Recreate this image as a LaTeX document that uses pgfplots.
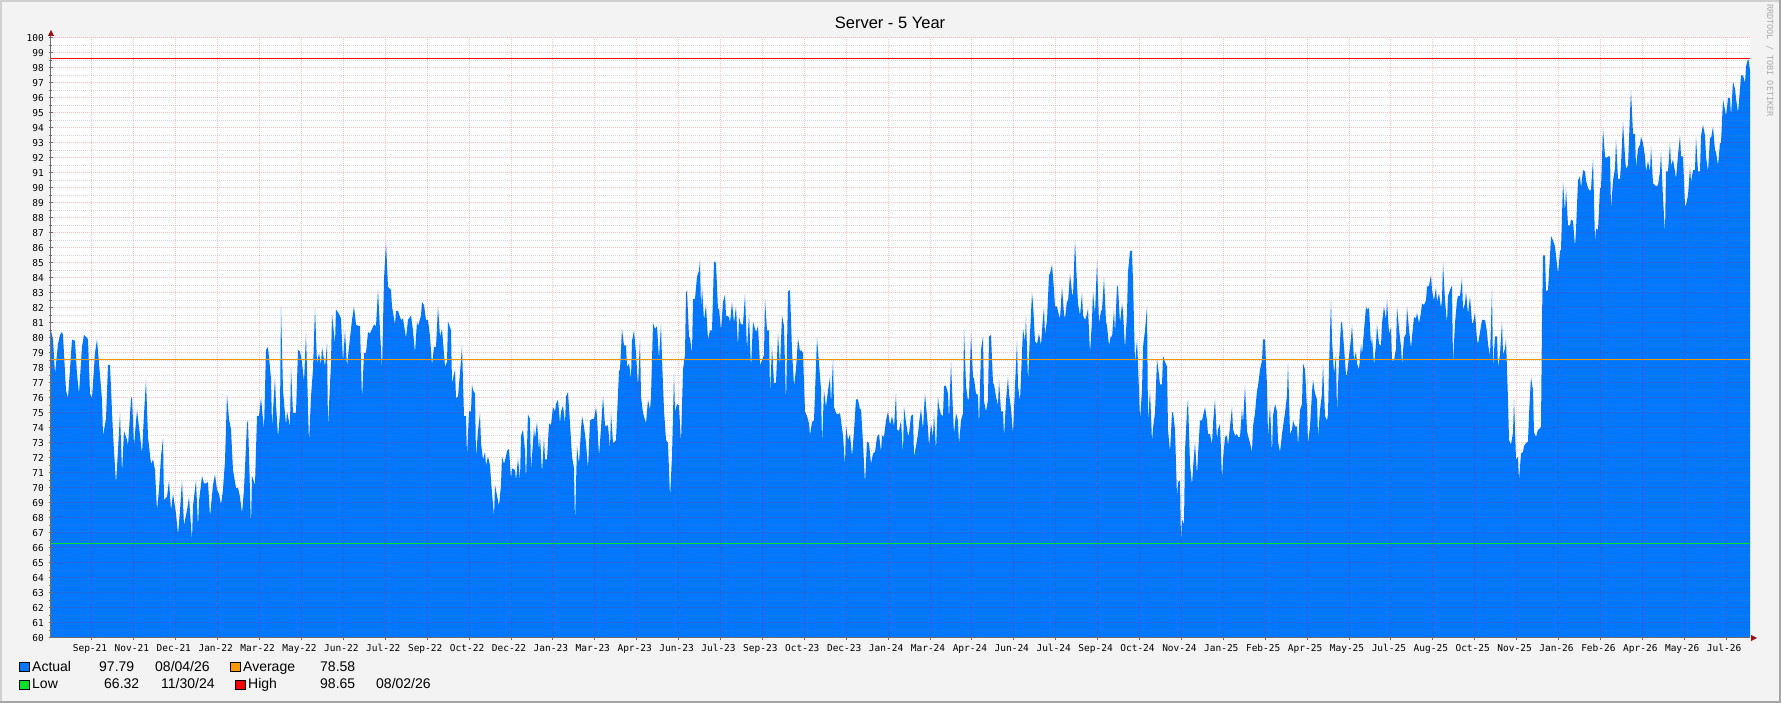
\documentclass[border=0pt]{standalone}
\usepackage{fontspec}
\setmainfont{Liberation Sans}
\newfontfamily\monofont{DejaVu Sans Mono}
\usepackage{pgfplots}
\pgfplotsset{compat=1.18}
\definecolor{rrdblue}{RGB}{0,119,255}
\definecolor{rrdbg}{RGB}{243,243,243}
\definecolor{rrdorange}{RGB}{240,150,10}
\definecolor{rrdboxorange}{RGB}{255,153,0}
\definecolor{rrdgreen}{RGB}{0,225,40}
\definecolor{rrdred}{RGB}{255,0,0}
\definecolor{axisgray}{RGB}{110,110,110}
\definecolor{arrowred}{RGB}{150,20,20}
\definecolor{frametop}{RGB}{208,208,208}
\definecolor{framebot}{RGB}{165,165,165}
\newcommand{\legfont}{\fontsize{14}{16}\selectfont}
\begin{document}
\begin{tikzpicture}[x=1pt,y=1pt]
\path[use as bounding box] (-51,-65) rectangle (1730,638);
\fill[rrdbg] (-51,-65) rectangle (1730,638);
\draw[frametop, line width=2pt] (-50,-64) -- (-50,637) -- (1729,637);
\draw[framebot, line width=2pt] (-51,-64) -- (1729,-64) -- (1729,638);
\node[anchor=base, inner sep=0pt, font=\fontsize{16.5}{18}\selectfont] at (839,609.7) {Server - 5 Year};
\node[rotate=-90, anchor=base west, inner sep=0pt, text=gray!65, font=\monofont\fontsize{8.5}{9}\selectfont] at (1716,634) {RRDTOOL / TOBI OETIKER};
\begin{axis}[
  at={(0,0)}, anchor=south west,
  scale only axis, width=1699pt, height=600pt,
  xmin=51, xmax=1750, ymin=60, ymax=100,
  axis x line*=bottom, axis y line*=left,
  axis line style={axisgray, line width=1pt},
  axis background/.style={fill=white},
  axis on top,
  xtick={92,133.9,175.8,217.7,259.6,301.5,343.4,385.3,427.2,469.1,511,552.9,594.8,636.7,678.6,720.5,762.4,804.3,846.2,888.1,930,971.9,1013.8,1055.7,1097.6,1139.5,1181.4,1223.3,1265.2,1307.1,1349,1390.9,1432.8,1474.7,1516.6,1558.5,1600.4,1642.3,1684.2,1726.1},
  xticklabels={Sep-21,Nov-21,Dec-21,Jan-22,Mar-22,May-22,Jun-22,Jul-22,Sep-22,Oct-22,Dec-22,Jan-23,Mar-23,Apr-23,Jun-23,Jul-23,Sep-23,Oct-23,Dec-23,Jan-24,Mar-24,Apr-24,Jun-24,Jul-24,Sep-24,Oct-24,Nov-24,Jan-25,Feb-25,Apr-25,May-25,Jul-25,Aug-25,Oct-25,Nov-25,Jan-26,Feb-26,Apr-26,May-26,Jul-26},
  ytick={60,61,...,100},
  minor ytick={60.5,61.5,...,99.5},
  xmajorgrids, ymajorgrids, yminorgrids,
  major grid style={draw=red, opacity=0.24, line width=1pt, dash pattern=on 1pt off 1pt},
  minor grid style={draw=gray, opacity=0.32, line width=1pt, dash pattern=on 1pt off 1pt},
  tick align=center, major tick length=4pt, minor tick length=3pt,
  tick style={axisgray, line width=1pt},
  /pgf/number format/assume math mode=true,
  tick label style={font=\monofont\fontsize{9.5}{10}\selectfont},
  yticklabel style={anchor=east, inner sep=0pt, xshift=-5pt},
  xticklabel style={anchor=north, inner sep=0pt, yshift=-4pt, xshift=-2pt, text height=7pt, text depth=2pt},
]
\addplot[draw=none, fill=rrdblue] coordinates {
(51,80.5) (53,79.9) (55,77.6) (58,79.6) (60,80.2) (62,80.4) (63,80.2) (66,76.5) (68,76.0) (70,77.9) (72,79.9) (75,79.8) (77,77.6) (79,76.3) (82,79.4) (84,80.2) (87,80.0) (88,79.9) (90,76.3) (92,76.0) (95,79.0) (97,79.9) (99,78.3) (102,75.9) (103,73.5) (106,74.6) (108,78.2) (110,78.2) (113,73.6) (116,70.3) (118,72.5) (120,75.0) (122,71.0) (124,73.8) (127,73.2) (128,72.8) (131,75.9) (132,76.1) (134,72.8) (137,75.2) (140,73.5) (142,72.3) (144,74.9) (146,77.2) (148,73.4) (151,71.6) (153,71.9) (155,71.2) (157,68.5) (159,69.9) (161,72.1) (163,73.3) (164,69.2) (167,69.4) (169,70.5) (171,68.5) (173,69.6) (176,68.3) (178,66.9) (180,68.5) (182,70.5) (184,67.5) (187,68.5) (189,69.4) (192,66.5) (193,68.8) (196,70.5) (198,67.4) (199,69.1) (202,70.8) (204,70.3) (206,70.3) (208,70.4) (210,68.1) (213,70.2) (215,70.9) (217,69.9) (219,69.6) (221,68.9) (223,69.9) (225,71.8) (227,76.2) (229,74.6) (231,73.9) (233,71.2) (236,70.0) (238,70.0) (240,69.4) (242,68.3) (244,69.9) (247,74.3) (248,74.5) (251,67.4) (252,70.8) (255,70.2) (257,74.8)
(259,74.8) (261,76.0) (264,73.9) (266,79.2) (268,79.4) (271,77.3) (272,74.1) (275,77.3) (276,75.6) (278,73.4) (280,75.0) (281,82.1) (283,76.5) (286,74.2) (287,75.1) (290,74.1) (291,78.0) (293,75.0) (296,75.0) (298,79.2) (300,79.1) (302,78.4) (304,77.1) (306,80.3) (309,73.0) (311,76.1) (313,77.9) (315,82.0) (317,78.3) (319,79.0) (321,78.2) (322,79.4) (325,78.1) (327,79.6) (328,74.1) (331,78.3) (332,81.6) (335,79.6) (336,81.9) (339,81.6) (341,81.3) (343,78.4) (345,80.5) (347,78.1) (349,79.4) (352,81.2) (354,82.1) (356,80.9) (358,80.8) (360,80.8) (362,75.9) (364,79.0) (366,79.0) (368,80.4) (370,80.3) (372,80.6) (374,80.9) (376,80.8) (378,83.2) (380,80.5) (382,77.9) (384,83.9) (386,86.4) (388,83.4) (391,83.2) (392,82.1) (395,80.9) (396,81.8) (398,81.8) (401,81.2) (403,81.3) (406,80.0) (408,81.2) (411,81.5) (413,80.5) (415,79.0) (417,81.1) (418,80.8) (421,81.5) (422,82.4) (424,82.2) (426,81.2) (428,81.2) (430,80.1) (432,78.2) (434,79.4) (436,79.4) (438,82.1) (440,80.1) (442,80.6) (445,78.1) (447,78.4) (448,81.1) (451,80.5) (452,77.0) (455,77.9) (456,76.0) (458,76.1) (461,78.5) (462,79.5) (464,74.8) (466,74.8) (467,72.1) (469,75.1) (471,75.1) (472,76.9)
(473,76.5) (475,76.3) (476,72.1) (478,73.8) (480,75.0) (481,73.0) (483,71.9) (485,72.4) (486,71.5) (488,72.1) (490,71.5) (491,70.5) (494,68.1) (495,70.2) (497,69.5) (499,68.8) (501,70.2) (502,72.1) (504,71.6) (506,72.1) (507,72.5) (509,72.6) (511,70.6) (512,71.3) (515,71.2) (516,70.5) (518,72.0) (520,70.5) (521,73.5) (523,73.9) (525,72.5) (526,70.5) (528,74.9) (530,74.6) (531,71.2) (534,74.0) (535,73.3) (537,74.4) (539,72.5) (540,73.5) (542,71.0) (544,73.4) (545,71.9) (547,71.9) (549,74.3) (551,74.2) (553,75.4) (555,75.1) (556,75.6) (558,75.9) (560,74.3) (561,75.1) (563,75.5) (565,74.3) (566,76.1) (568,76.4) (570,74.3) (572,72.1) (574,71.3) (575,67.6) (577,72.8) (579,71.6) (581,73.9) (582,74.8) (584,74.1) (586,73.0) (588,71.3) (590,74.5) (592,74.6) (594,74.6) (596,75.4) (597,74.8) (599,72.1) (601,74.0) (603,76.1) (605,74.2) (606,74.1) (608,74.2) (610,72.6) (611,75.0) (613,73.0) (615,73.1) (616,73.2) (619,77.8) (620,77.9) (622,80.6) (624,79.5) (626,79.5) (627,78.1) (629,78.3) (631,77.3) (632,79.8) (634,80.5) (636,79.0) (638,76.8) (640,79.9) (641,76.1) (643,75.0) (646,74.3) (648,75.9) (650,75.2) (651,76.1) (653,81.0) (655,80.6) (657,80.8) (659,78.6) (661,80.9) (662,78.6) (664,75.2) (666,73.2) (668,73.0) (670,69.4) (672,72.1) (674,77.6) (675,75.1) (677,75.6) (679,75.5) (681,73.0) (683,77.9) (685,78.9) (686,83.0)
(687,83.2) (689,80.1) (690,80.0) (692,79.0) (693,82.6) (695,82.6) (697,84.1) (699,84.5) (700,85.2) (701,81.9) (702,83.4) (704,81.2) (706,82.2) (708,79.9) (710,80.5) (712,80.5) (714,85.1) (716,85.0) (718,81.9) (719,82.0) (721,80.5) (723,82.4) (725,82.9) (726,81.5) (729,81.4) (730,81.0) (732,82.4) (734,81.0) (736,82.1) (738,79.4) (739,81.4) (741,80.9) (743,80.9) (745,82.9) (747,79.2) (749,81.6) (751,78.0) (753,81.1) (755,80.6) (756,80.4) (758,80.8) (760,78.2) (762,78.5) (764,78.9) (765,82.6) (767,80.5) (769,80.5) (770,76.3) (772,79.4) (774,77.0) (776,77.0) (778,80.3) (780,78.1) (782,81.5) (784,80.8) (786,75.6) (788,83.1) (790,83.2) (792,79.2) (794,76.8) (796,77.9) (798,80.0) (800,79.1) (801,79.2) (803,79.0) (805,75.1) (807,74.8) (809,74.3) (810,73.5) (812,74.4) (814,74.5) (817,80.0) (819,78.3) (821,76.6) (822,72.9) (824,76.5) (826,75.4) (828,76.5) (830,77.4) (831,75.6) (833,78.6) (834,75.4) (836,75.0) (838,74.9) (840,75.0) (843,73.5) (845,71.5) (846,74.2) (848,73.2) (850,73.6) (852,72.1) (854,73.8) (856,75.9) (858,75.9) (860,75.2) (861,75.3) (863,73.0) (865,70.3) (867,73.1) (869,73.0) (871,71.6) (873,72.3) (875,72.4) (877,73.4) (879,73.6) (881,72.4) (882,73.5) (884,73.4) (886,74.5) (888,75.1) (890,74.2) (892,74.8) (894,74.1) (896,76.3) (897,73.9) (899,73.8)
(901,74.5) (903,72.3) (904,75.4) (906,74.4) (908,73.5) (909,73.6) (911,74.8) (913,74.9) (914,72.1) (916,72.8) (918,73.6) (919,74.3) (921,75.3) (923,73.9) (924,75.2) (925,76.3) (928,74.0) (929,72.8) (931,74.3) (933,73.4) (934,75.0) (936,72.5) (938,76.1) (939,75.4) (941,74.9) (943,74.8) (944,76.8) (946,76.8) (948,76.3) (949,74.5) (951,78.4) (953,75.0) (954,73.6) (956,75.0) (958,74.5) (959,72.9) (961,74.5) (963,75.0) (964,80.6) (966,76.8) (968,75.8) (969,76.1) (971,80.3) (973,77.4) (974,77.3) (976,76.3) (978,76.2) (979,74.1) (981,79.2) (983,80.1) (984,75.8) (986,75.1) (988,75.9) (989,80.1) (991,80.2) (993,77.0) (994,76.9) (996,76.1) (998,75.5) (999,77.2) (1001,75.1) (1003,75.1) (1004,73.4) (1006,75.8) (1008,77.4) (1009,76.3) (1011,75.3) (1013,73.6) (1015,76.8) (1017,79.8) (1018,76.8) (1020,75.8) (1022,79.0) (1023,80.6) (1025,79.8) (1026,81.4) (1028,77.1) (1030,80.3) (1032,83.0) (1033,82.3) (1035,79.8) (1037,79.6) (1039,80.3) (1041,79.5) (1043,81.4) (1044,82.0) (1045,80.2) (1047,81.2) (1049,84.2) (1050,84.3) (1052,84.9) (1054,83.2) (1055,82.1) (1057,82.1) (1059,81.5) (1060,81.3) (1062,83.4) (1064,81.6) (1065,81.3) (1067,82.5) (1068,82.4) (1070,84.3) (1072,83.0) (1073,82.8) (1075,86.5) (1077,83.6) (1078,82.3) (1080,81.5) (1082,83.0) (1083,81.5) (1085,81.2) (1087,81.6) (1088,82.0) (1090,79.0) (1092,81.2) (1093,83.1) (1095,81.6) (1097,85.1) (1099,81.0) (1101,81.8) (1102,81.9) (1104,84.0) (1106,81.1) (1107,80.8) (1109,79.5) (1111,80.2) (1112,80.0) (1114,81.9)
(1115,80.3) (1117,83.5) (1118,83.4) (1120,81.0) (1122,82.3) (1123,81.8) (1125,79.3) (1127,81.6) (1128,84.4) (1130,85.8) (1132,85.8) (1133,83.8) (1135,78.3) (1137,79.9) (1138,78.3) (1140,74.6) (1142,76.5) (1143,79.4) (1145,80.5) (1147,82.1) (1148,74.5) (1150,76.5) (1152,73.1) (1153,74.0) (1155,75.0) (1157,78.6) (1158,78.1) (1160,76.9) (1162,76.9) (1163,78.8) (1165,78.4) (1167,78.1) (1168,73.9) (1170,72.4) (1172,75.0) (1173,75.1) (1175,73.9) (1177,69.4) (1178,70.4) (1180,70.5) (1181,66.4) (1182,67.9) (1184,67.6) (1185,72.5) (1187,75.2) (1188,75.9) (1190,71.6) (1192,70.2) (1193,71.3) (1195,73.0) (1197,70.9) (1198,72.2) (1200,74.5) (1202,74.5) (1203,74.8) (1205,75.4) (1207,74.5) (1208,73.6) (1210,73.6) (1212,72.9) (1213,74.3) (1215,75.9) (1217,73.2) (1218,73.9) (1220,74.3) (1222,70.6) (1223,71.9) (1225,73.4) (1227,73.5) (1228,72.8) (1230,74.1) (1232,75.4) (1233,73.9) (1235,73.5) (1237,73.6) (1238,73.4) (1240,73.4) (1242,75.3) (1243,74.3) (1245,76.8) (1247,73.8) (1248,73.5) (1250,73.0) (1252,72.4) (1253,74.1) (1255,75.0) (1257,76.5) (1258,76.8) (1260,77.9) (1262,78.5) (1263,79.9) (1265,79.9) (1267,76.8) (1268,73.4) (1270,75.5) (1272,72.3) (1273,74.8) (1275,75.6) (1277,75.1) (1278,73.1) (1280,72.4) (1282,73.6) (1283,74.1) (1285,75.0) (1287,76.2) (1288,78.3) (1290,73.6) (1292,73.9) (1293,74.5) (1295,74.1) (1297,74.1) (1298,72.8) (1300,75.2) (1302,75.6) (1303,78.3) (1305,77.9) (1307,75.3) (1308,73.0) (1310,74.1) (1312,76.4) (1313,77.2) (1315,76.3) (1317,75.9) (1318,73.4) (1320,75.2) (1322,76.3) (1323,78.3) (1325,74.8) (1327,74.5) (1328,74.9)
(1329,78.1) (1331,82.5) (1332,79.9) (1334,77.6) (1336,78.9) (1337,75.0) (1339,78.5) (1341,81.0) (1342,81.1) (1344,79.4) (1346,77.5) (1347,77.6) (1349,78.8) (1351,80.0) (1352,80.9) (1354,78.5) (1356,79.1) (1357,78.3) (1359,77.9) (1361,79.6) (1362,78.9) (1364,80.5) (1366,82.1) (1367,81.9) (1369,82.0) (1371,79.5) (1372,80.1) (1374,78.2) (1376,79.6) (1377,80.9) (1379,79.6) (1381,79.5) (1382,81.0) (1384,82.1) (1386,81.2) (1387,82.6) (1389,80.3) (1391,80.7) (1392,78.5) (1394,78.5) (1396,79.3) (1397,82.1) (1399,80.6) (1401,79.4) (1402,78.2) (1404,80.0) (1406,80.3) (1407,82.1) (1409,80.6) (1411,79.3) (1412,80.1) (1414,81.4) (1416,81.3) (1417,81.7) (1419,81.0) (1421,81.7) (1422,82.3) (1424,82.2) (1426,82.5) (1427,83.4) (1429,83.5) (1431,84.2) (1432,83.2) (1434,82.5) (1436,83.4) (1437,82.4) (1439,83.0) (1441,82.0) (1442,82.6) (1443,85.0) (1445,82.5) (1447,81.0) (1448,82.8) (1450,83.2) (1452,83.5) (1453,78.3) (1455,81.0) (1457,82.5) (1458,82.8) (1460,82.8) (1462,84.0) (1463,81.9) (1465,82.3) (1466,83.1) (1468,81.6) (1470,82.8) (1472,81.0) (1473,81.0) (1475,81.7) (1477,79.9) (1478,79.6) (1480,80.4) (1482,81.2) (1483,81.2) (1485,81.2) (1487,80.4) (1488,79.6) (1490,78.8) (1492,83.2) (1493,78.1) (1495,80.1) (1497,80.1) (1498,78.1) (1500,78.9) (1502,81.1) (1503,78.9) (1505,79.3) (1506,79.9) (1508,75.9) (1509,73.2) (1511,72.9) (1513,73.7) (1514,75.9) (1516,71.9) (1518,72.1) (1519,70.5) (1521,72.3) (1523,72.4) (1524,72.8) (1526,73.0) (1528,73.1) (1529,74.9) (1531,77.4) (1533,76.5) (1534,73.7) (1536,73.4) (1538,73.9) (1539,73.9) (1541,74.1) (1542,81.2)
(1543,85.5) (1545,85.5) (1546,83.1) (1548,83.2) (1550,85.5) (1551,86.8) (1553,86.5) (1555,86.1) (1556,85.5) (1558,84.3) (1560,85.8) (1561,85.9) (1563,90.4) (1565,88.4) (1566,90.0) (1568,87.5) (1570,87.5) (1571,87.9) (1573,87.8) (1575,86.1) (1576,87.2) (1578,90.5) (1580,90.8) (1581,90.0) (1583,91.2) (1585,91.1) (1586,90.5) (1588,90.0) (1590,89.8) (1591,89.9) (1593,91.9) (1595,86.4) (1596,87.3) (1598,87.2) (1600,90.0) (1601,90.0) (1603,94.0) (1605,92.1) (1606,92.0) (1608,92.1) (1610,92.1) (1611,88.6) (1613,90.5) (1615,91.3) (1616,93.2) (1618,90.6) (1620,90.6) (1621,91.6) (1623,94.4) (1625,92.1) (1626,91.3) (1628,91.5) (1630,95.0) (1631,96.5) (1633,93.6) (1635,93.6) (1636,91.4) (1638,92.6) (1640,92.9) (1641,93.4) (1643,93.0) (1645,92.1) (1646,91.1) (1648,91.8) (1650,91.1) (1651,92.8) (1653,90.3) (1655,90.2) (1656,90.1) (1658,90.2) (1660,91.1) (1661,92.4) (1663,89.3) (1665,87.0) (1666,91.1) (1668,91.1) (1670,93.0) (1671,91.5) (1673,91.9) (1675,91.1) (1676,90.6) (1678,92.2) (1680,93.5) (1681,92.1) (1683,92.1) (1685,88.8) (1686,88.9) (1688,89.5) (1690,91.4) (1691,90.4) (1693,91.2) (1695,91.2) (1696,93.4) (1698,91.1) (1700,91.1) (1701,93.5) (1703,94.2) (1705,93.5) (1706,92.1) (1708,91.1) (1710,93.4) (1711,93.3) (1713,94.1) (1715,92.5) (1716,92.4) (1718,91.5) (1720,93.0) (1721,93.0) (1723,95.9) (1725,95.2) (1726,94.8) (1728,96.0) (1730,96.0) (1731,94.8) (1733,97.1) (1735,96.6) (1736,96.0) (1738,95.0) (1740,96.6) (1741,97.5) (1743,97.5) (1745,97.0) (1746,98.1) (1748,98.6) (1749,98.4) (1750,97.8)
} \closedcycle;
\addplot[rrdorange, line width=1.3pt] coordinates {(51,78.58) (1750,78.58)};
\addplot[rrdgreen, line width=1.3pt] coordinates {(51,66.32) (1750,66.32)};
\addplot[rrdred, line width=1.3pt] coordinates {(51,98.65) (1750,98.65)};
\end{axis}
\draw[axisgray, line width=1pt] (0,599) -- (0,603);
\fill[arrowred] (-3,602) -- (3,602) -- (0,608) -- cycle;
\fill[arrowred] (1700,-3) -- (1700,3) -- (1706,0) -- cycle;
% legend
\filldraw[fill=rrdblue, draw=black, line width=1pt] (-31.5,-33.5) rectangle (-21.5,-24.5);
\node[anchor=base west, inner sep=0pt, font=\legfont] at (-19,-33.5) {Actual};
\node[anchor=base west, inner sep=0pt, font=\legfont] at (48,-33.5) {97.79};
\node[anchor=base west, inner sep=0pt, font=\legfont] at (104,-33.5) {08/04/26};
\filldraw[fill=rrdboxorange, draw=black, line width=1pt] (179.5,-33.5) rectangle (189.5,-24.5);
\node[anchor=base west, inner sep=0pt, font=\legfont] at (192,-33.5) {Average};
\node[anchor=base west, inner sep=0pt, font=\legfont] at (269,-33.5) {78.58};
\filldraw[fill=rrdgreen, draw=black, line width=1pt] (-31.5,-51.5) rectangle (-21.5,-42.5);
\node[anchor=base west, inner sep=0pt, font=\legfont] at (-19,-51) {Low};
\node[anchor=base west, inner sep=0pt, font=\legfont] at (53,-51) {66.32};
\node[anchor=base west, inner sep=0pt, font=\legfont] at (110,-51) {11/30/24};
\filldraw[fill=rrdred, draw=black, line width=1pt] (184.5,-51.5) rectangle (194.5,-42.5);
\node[anchor=base west, inner sep=0pt, font=\legfont] at (197,-51) {High};
\node[anchor=base west, inner sep=0pt, font=\legfont] at (269,-51) {98.65};
\node[anchor=base west, inner sep=0pt, font=\legfont] at (325,-51) {08/02/26};
\end{tikzpicture}
\end{document}
